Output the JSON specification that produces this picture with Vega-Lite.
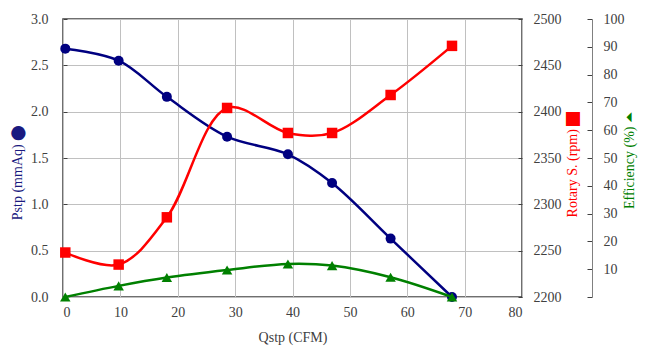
{
  "$schema": "https://vega.github.io/schema/vega-lite/v6.json",
  "width": 459,
  "height": 278,
  "autosize": "none",
  "padding": {"left": 63, "top": 19, "right": 125, "bottom": 59},
  "background": "white",
  "config": {
    "font": "Liberation Serif",
    "view": {"stroke": "#404040", "strokeWidth": 1.5},
    "axis": {
      "labelFont": "Liberation Serif",
      "titleFont": "Liberation Serif",
      "labelFontSize": 14,
      "titleFontSize": 14,
      "labelColor": "#404040",
      "titleColor": "#404040",
      "titleFontWeight": "normal",
      "gridColor": "#c0c0c0",
      "gridWidth": 1,
      "domainColor": "#404040",
      "tickColor": "#404040"
    }
  },
  "data": {
    "values": [
      {"q": 0.4, "p": 2.68, "rpm": 2248, "eff": 0},
      {"q": 9.7, "p": 2.55, "rpm": 2235, "eff": 4.0},
      {"q": 18.1, "p": 2.16, "rpm": 2286, "eff": 7.0},
      {"q": 28.6, "p": 1.73, "rpm": 2404, "eff": 9.7},
      {"q": 39.2, "p": 1.54, "rpm": 2377, "eff": 11.9},
      {"q": 46.9, "p": 1.23, "rpm": 2377, "eff": 11.3},
      {"q": 57.1, "p": 0.63, "rpm": 2418, "eff": 7.1},
      {"q": 67.8, "p": 0.0, "rpm": 2471, "eff": 0}
    ]
  },
  "layer": [
    {
      "mark": {"type": "line", "color": "#000080", "strokeWidth": 2.5, "interpolate": "catmull-rom",
               "point": {"shape": "circle", "size": 100, "filled": true, "color": "#000080", "opacity": 1}},
      "encoding": {
        "x": {"field": "q", "type": "quantitative", "scale": {"domain": [0, 80], "nice": false},
              "axis": {"title": "Qstp (CFM)", "values": [0,10,20,30,40,50,60,70,80], "ticks": false, "domain": false, "labelPadding": 8, "titlePadding": 11}},
        "y": {"field": "p", "type": "quantitative", "scale": {"domain": [0, 3], "nice": false},
              "axis": {"orient": "left", "title": "Pstp (mmAq) ⬤", "titleColor": "#1a1a80", "values": [0,0.5,1,1.5,2,2.5,3], "format": ".1f",
                       "domain": false, "tickSize": -4, "labelPadding": 19, "titleAngle": -90, "titleX": -46, "titleY": 153, "titleAlign": "center", "titleBaseline": "middle"}}
      }
    },
    {
      "mark": {"type": "line", "color": "#ff0000", "strokeWidth": 2.5, "interpolate": "catmull-rom",
               "point": {"shape": "square", "size": 110, "filled": true, "color": "#ff0000", "opacity": 1}},
      "encoding": {
        "x": {"field": "q", "type": "quantitative"},
        "y": {"field": "rpm", "type": "quantitative", "scale": {"domain": [2200, 2500], "nice": false},
              "axis": {"orient": "right", "title": "Rotary S. (rpm) ⬛︎", "titleColor": "#ff0000", "values": [2200,2250,2300,2350,2400,2450,2500], "format": "d",
                       "grid": false, "domain": false, "tickSize": -4, "labelPadding": 15, "titleAngle": -90, "titleX": 50, "titleY": 145, "titleAlign": "center", "titleBaseline": "middle"}}
      }
    },
    {
      "mark": {"type": "line", "color": "#008000", "strokeWidth": 2.5, "interpolate": "catmull-rom",
               "point": {"shape": "triangle-up", "size": 110, "filled": true, "color": "#008000", "opacity": 1}},
      "encoding": {
        "x": {"field": "q", "type": "quantitative"},
        "y": {"field": "eff", "type": "quantitative", "scale": {"domain": [0, 100], "nice": false},
              "axis": {"orient": "right", "offset": 70, "title": "Efficiency (%) ⏶", "titleColor": "#008000", "values": [0,10,20,30,40,50,60,70,80,90,100],
                       "labelExpr": "datum.value == 0 ? '' : datum.label",
                       "grid": false, "domain": true, "domainColor": "#808080", "tickColor": "#404040", "tickSize": -5, "labelPadding": 16,
                       "titleAngle": -90, "titleX": 37, "titleY": 141, "titleAlign": "center", "titleBaseline": "middle"}}
      }
    }
  ],
  "resolve": {"scale": {"y": "independent"}}
}
